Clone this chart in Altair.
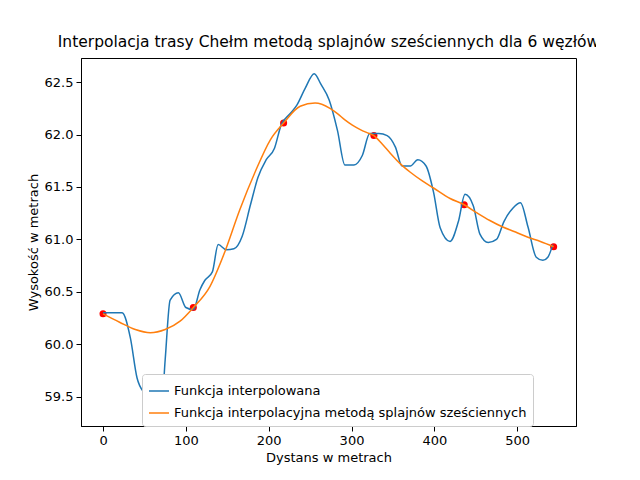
import altair as alt
import pandas as pd

# węzły
node_x = [0, 109, 218, 327, 436, 544]
node_y = [60.29, 60.35, 62.11, 61.99, 61.33, 60.93]

# trasa (odczyt z wykresu)
route_x = [0, 23, 33, 41, 51, 63, 71, 75, 81, 91, 100, 109, 117, 123, 132, 139,
           149, 158, 168, 178, 187, 197, 207, 215, 226, 234, 244, 255, 263, 273,
           283, 292, 303, 313, 322, 333, 343, 353, 361, 371, 380, 390, 399, 407,
           419, 429, 437, 447, 455, 465, 475, 484, 495, 504, 513, 523, 531, 537, 543]
route_y = [60.30, 60.30, 60.06, 59.68, 59.52, 59.40, 59.44, 59.85, 60.42, 60.49,
           60.35, 60.33, 60.52, 60.61, 60.69, 60.95, 60.90, 60.91, 61.03, 61.33,
           61.59, 61.76, 61.87, 62.09, 62.20, 62.28, 62.44, 62.58, 62.48, 62.33,
           62.04, 61.71, 61.71, 61.80, 62.01, 62.01, 61.99, 61.88, 61.70, 61.70,
           61.76, 61.70, 61.45, 61.11, 60.98, 61.17, 61.43, 61.32, 61.05, 60.97,
           61.00, 61.17, 61.30, 61.35, 61.12, 60.83, 60.80, 60.83, 60.95]

# splajn (odczyt z wykresu)
spline_x = [0, 20, 39, 57, 75, 93, 109, 129, 147, 165, 184, 202, 218, 238, 256,
            274, 283, 292, 301, 310, 318, 327, 337, 347, 359, 371, 385, 399, 419,
            436, 452, 467, 482, 498, 513, 528, 544]
spline_y = [60.29, 60.21, 60.14, 60.11, 60.14, 60.22, 60.35, 60.55, 60.88, 61.28,
            61.65, 61.95, 62.11, 62.27, 62.30, 62.25, 62.20, 62.14, 62.09, 62.05,
            62.02, 61.99, 61.91, 61.82, 61.72, 61.64, 61.56, 61.49, 61.39,
            61.33, 61.25, 61.18, 61.12, 61.07, 61.02, 60.98, 60.93]

s1 = "Funkcja interpolowana"
s2 = "Funkcja interpolacyjna metodą splajnów sześciennych"

lines = pd.concat([
    pd.DataFrame({"x": route_x, "y": route_y, "seria": s1, "o": range(len(route_x))}),
    pd.DataFrame({"x": spline_x, "y": spline_y, "seria": s2, "o": range(len(spline_x))}),
])
nodes = pd.DataFrame({"x": node_x, "y": node_y})

xs = alt.Scale(domain=[-26.6, 571], nice=False, zero=False)
ys = alt.Scale(domain=[59.22, 62.73], nice=False, zero=False)

line = alt.Chart(lines).mark_line(strokeWidth=1.5, clip=True, interpolate="monotone").encode(
    x=alt.X("x:Q", scale=xs, title="Dystans w metrach",
            axis=alt.Axis(values=[0, 100, 200, 300, 400, 500])),
    y=alt.Y("y:Q", scale=ys, title="Wysokość w metrach",
            axis=alt.Axis(values=[59.5, 60.0, 60.5, 61.0, 61.5, 62.0, 62.5], format=".1f")),
    color=alt.Color("seria:N", sort=[s1, s2],
                    scale=alt.Scale(domain=[s1, s2], range=["#1f77b4", "#ff7f0e"]),
                    legend=alt.Legend(title=None, orient="none", legendX=61, legendY=316,
                                      symbolType="stroke", symbolStrokeWidth=1.5,
                                      symbolSize=400, labelFontSize=13, labelLimit=600,
                                      fillColor="white", strokeColor="#cccccc",
                                      padding=6, cornerRadius=3, rowPadding=4)),
    detail="seria:N",
    order="o:Q",
)

pts = alt.Chart(nodes).mark_circle(color="red", size=50, opacity=1).encode(
    x="x:Q", y="y:Q")

chart = alt.layer(pts, line).properties(
    width=495, height=368,
    title=alt.Title("Interpolacja trasy Chełm metodą splajnów sześciennych dla 6 węzłów",
                    fontSize=15.5, fontWeight="normal", offset=8, limit=700),
    autosize=alt.AutoSizeParams(type="none"),
    padding={"left": 73, "top": 50, "right": 20, "bottom": 40},
).configure(font="DejaVu Sans").configure_axis(
    grid=False, domainColor="black", tickColor="black", labelColor="black",
    titleColor="black", labelFontSize=13, titleFontSize=13, titleFontWeight="normal",
    tickSize=5, labelPadding=3,
).configure_view(stroke="black", strokeWidth=1)

chart.save("out.html", embed_options={"renderer": "svg", "actions": False})
